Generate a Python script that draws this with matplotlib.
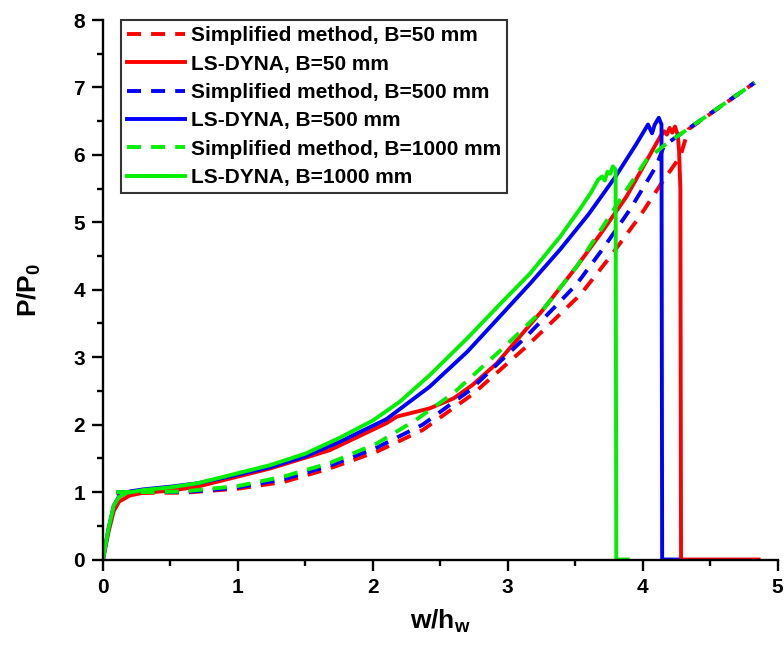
import matplotlib
matplotlib.use("Agg")
import matplotlib.pyplot as plt

plt.rcParams['font.family'] = ['Liberation Sans', 'DejaVu Sans']
plt.rcParams['font.weight'] = 'bold'
plt.rcParams['mathtext.fontset'] = 'custom'
plt.rcParams['mathtext.rm'] = 'Liberation Sans:bold'
plt.rcParams['mathtext.it'] = 'Liberation Sans:bold'
plt.rcParams['mathtext.bf'] = 'Liberation Sans:bold'

# ---- data ----
simp50_x = [0.10, 0.40, 0.60, 0.80, 1.00, 1.34, 1.68, 2.03, 2.37, 2.74, 3.14, 3.54, 3.76, 3.98, 4.13, 4.28, 4.34, 4.83]
simp50_y = [0.98, 0.99, 0.99, 1.02, 1.05, 1.15, 1.35, 1.60, 1.92, 2.45, 3.16, 3.93, 4.49, 5.09, 5.55, 5.98, 6.38, 7.07]

dyna50_x = [0.00, 0.04, 0.08, 0.12, 0.20, 0.30, 0.50, 0.70, 0.94, 1.24, 1.68, 2.10, 2.18, 2.32, 2.42, 2.60, 2.74, 2.92,
            3.07, 3.26, 3.51, 3.70, 3.88, 4.13, 4.16, 4.18, 4.20, 4.22, 4.24, 4.26, 4.27, 4.28, 4.285, 4.86]
dyna50_y = [0.00, 0.40, 0.72, 0.86, 0.95, 0.99, 1.02, 1.08, 1.20, 1.35, 1.62, 2.02, 2.12, 2.19, 2.24, 2.39, 2.59, 2.91,
            3.26, 3.70, 4.34, 4.86, 5.38, 6.27, 6.35, 6.30, 6.40, 6.33, 6.42, 6.30, 6.08, 5.50, 0.00, 0.00]

simp500_x = [0.10, 0.40, 0.60, 0.80, 1.00, 1.34, 1.68, 2.03, 2.37, 2.72, 3.14, 3.51, 3.71, 3.91, 4.10, 4.16, 4.83]
simp500_y = [1.00, 1.00, 1.00, 1.03, 1.07, 1.19, 1.39, 1.66, 2.00, 2.51, 3.31, 4.08, 4.62, 5.20, 5.83, 6.14, 7.07]

dyna500_x = [0.00, 0.04, 0.08, 0.12, 0.20, 0.30, 0.50, 0.70, 0.94, 1.24, 1.50, 1.75, 2.10, 2.42, 2.70, 2.94, 3.17,
             3.39, 3.60, 3.80, 3.95, 4.04, 4.07, 4.09, 4.12, 4.14, 4.145, 4.26]
dyna500_y = [0.00, 0.45, 0.80, 0.94, 1.01, 1.04, 1.08, 1.13, 1.23, 1.37, 1.53, 1.74, 2.08, 2.56, 3.08, 3.60, 4.10,
             4.60, 5.12, 5.68, 6.15, 6.45, 6.32, 6.45, 6.55, 6.45, 0.00, 0.00]

simp1000_x = [0.10, 0.40, 0.60, 0.80, 1.00, 1.34, 1.68, 2.03, 2.32, 2.60, 2.99, 3.26, 3.51, 3.70, 3.88, 4.03, 4.16, 4.83]
simp1000_y = [1.00, 1.00, 1.01, 1.05, 1.09, 1.23, 1.43, 1.72, 2.07, 2.47, 3.18, 3.70, 4.34, 4.92, 5.48, 5.93, 6.14, 7.07]

dyna1000_x = [0.00, 0.04, 0.08, 0.12, 0.18, 0.30, 0.50, 0.70, 0.94, 1.24, 1.50, 1.75, 2.00, 2.20, 2.42, 2.70,
              2.94, 3.17, 3.39, 3.54, 3.62, 3.67, 3.70, 3.72, 3.74, 3.76, 3.78, 3.80, 3.805, 3.89]
dyna1000_y = [0.00, 0.45, 0.80, 0.93, 0.99, 1.03, 1.07, 1.13, 1.25, 1.40, 1.57, 1.80, 2.06, 2.34, 2.73, 3.28,
              3.78, 4.25, 4.79, 5.21, 5.45, 5.63, 5.68, 5.62, 5.75, 5.72, 5.83, 5.78, 0.00, 0.00]

labels = ["Simplified method, B=50 mm", "LS-DYNA, B=50 mm",
          "Simplified method, B=500 mm", "LS-DYNA, B=500 mm",
          "Simplified method, B=1000 mm", "LS-DYNA, B=1000 mm"]
RED, BLUE, GREEN = "#ff0000", "#0000ff", "#00f000"

fig = plt.figure(figsize=(7.84, 6.47), dpi=100)
ax = fig.add_axes([103/784, 1-559.5/647, 674.5/784, 539.5/647])

lw = 2.8
dash = (3.6, 2.6)
ax.plot(simp50_x, simp50_y, color=RED, lw=lw, dashes=dash, label=labels[0])
ax.plot(dyna50_x, dyna50_y, color=RED, lw=lw, label=labels[1])
ax.plot(simp500_x, simp500_y, color=BLUE, lw=lw, dashes=dash, label=labels[2])
ax.plot(dyna500_x, dyna500_y, color=BLUE, lw=lw, label=labels[3])
ax.plot(simp1000_x, simp1000_y, color=GREEN, lw=lw, dashes=dash, label=labels[4])
ax.plot(dyna1000_x, dyna1000_y, color=GREEN, lw=lw, label=labels[5])

ax.set_xlim(0, 5)
ax.set_ylim(0, 8)
ax.set_xticks([0, 1, 2, 3, 4, 5])
ax.set_yticks(range(0, 9))
ax.set_xticks([0.5, 1.5, 2.5, 3.5, 4.5], minor=True)
ax.set_yticks([0.5 + i for i in range(8)], minor=True)
for s in ("top", "right"):
    ax.spines[s].set_visible(False)
for s in ("left", "bottom"):
    ax.spines[s].set_linewidth(1.7)
ax.tick_params(which="major", direction="out", length=8, width=1.7, labelsize=15, pad=5)
ax.tick_params(which="minor", direction="out", length=4.5, width=1.7)

ax.set_xlabel(r"w/h$_\mathregular{w}$", fontsize=19, fontweight="bold", labelpad=8)
ax.set_ylabel(r"P/P$_\mathregular{0}$", fontsize=19, fontweight="bold", labelpad=22)

leg = ax.legend(loc="upper left", bbox_to_anchor=(0.027, 1.0), borderaxespad=0,
                prop={"size": 15, "weight": "bold"}, frameon=True, fancybox=False, edgecolor="black",
                handlelength=2.75, handletextpad=0.3, labelspacing=0.45, borderpad=0.3)
leg.get_frame().set_linewidth(1.5)

fig.savefig("out.png", dpi=100)
